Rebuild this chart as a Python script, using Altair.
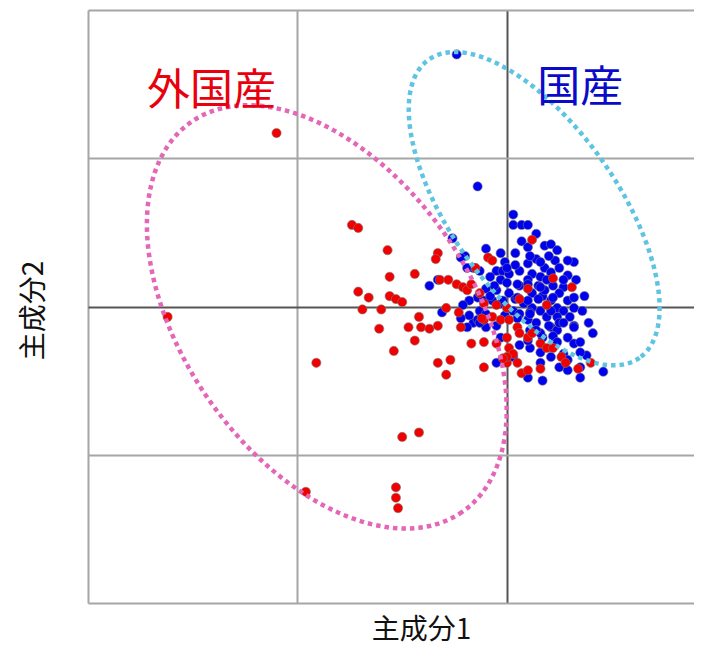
import altair as alt
import numpy as np
import pandas as pd

FONT = "Noto Sans CJK JP"

# 外国産 (red) – principal component scores
pc1_foreign = [-1.10, -1.62, -0.96, -0.74, -0.71, -0.57, -0.44, -0.56, -0.71, -0.66,
               -0.56, -0.53, -0.50, -0.69, -0.60, -0.61, -0.91, -0.50, -0.42, -0.53,
               -0.53, -0.52, -0.47, -0.41, -0.37, -0.33, -0.22, -0.44, -0.54, -0.33,
               -0.27, -0.29, -0.17, -0.11, -0.05, 0.07, 0.00, 0.05, 0.12, -0.33,
               -0.34, -0.32, -0.28, -0.24, -0.21, -0.19, -0.15, -0.09, -0.07, -0.29,
               -0.23, -0.13, -0.11, 0.22, 0.31, 0.10, 0.06, 0.19, -0.11, -0.05,
               0.00, -0.07, -0.03, 0.01, 0.05, -0.12, -0.42, 0.00, 0.01, 0.03,
               0.00, 0.06, 0.10, 0.12, 0.16, 0.19, 0.22, 0.10, 0.16, 0.26,
               0.28, 0.34, 0.40, -0.02, -0.11, -0.17]
pc2_foreign = [1.17, -0.07, -1.25, 0.55, 0.53, 0.38, 0.22, 0.20, 0.10, 0.06,
               0.07, 0.05, 0.03, -0.02, -0.02, -0.15, -0.38, -0.88, -0.85, -1.22,
               -1.29, -1.36, -0.14, -0.14, -0.15, -0.13, -0.14, -0.23, -0.30, -0.38,
               -0.36, -0.46, -0.25, -0.24, -0.25, -0.45, -0.38, -0.38, 0.45, 0.36,
               0.32, 0.18, 0.18, 0.15, 0.13, 0.11, 0.26, 0.33, 0.31, -0.01,
               -0.04, 0.09, -0.09, 0.19, 0.13, 0.12, 0.05, 0.01, 0.02, 0.01,
               -0.01, -0.07, -0.09, -0.09, -0.14, -0.08, -0.07, -0.21, -0.28, -0.32,
               -0.34, -0.18, -0.21, -0.18, -0.25, -0.28, -0.28, -0.43, -0.42, -0.34,
               -0.38, -0.42, -0.38, -0.35, -0.41, 0.15]

# 国産 (blue) – principal component scores
pc1_domestic = [-0.24, -0.14, 0.03, 0.03, 0.07, 0.10, 0.14, 0.07, 0.10, 0.18,
                0.21, 0.04, 0.14, 0.10, 0.23, 0.25, -0.10, -0.20, 0.18, 0.21,
                -0.05, -0.02, 0.01, 0.06, 0.12, 0.16, 0.33, -0.03, 0.00, 0.22,
                0.27, -0.08, -0.13, -0.16, -0.19, -0.10, -0.05, 0.01, 0.12, 0.17,
                0.25, 0.29, 0.32, -0.14, -0.11, -0.07, -0.03, 0.08, 0.12, 0.16,
                0.24, 0.27, 0.32, -0.13, -0.10, 0.03, 0.06, 0.19, 0.24, 0.30,
                0.10, 0.14, -0.16, -0.05, 0.39, 0.21, 0.24, 0.41, -0.14, 0.17,
                0.22, 0.29, 0.32, 0.03, 0.16, 0.27, 0.35, 0.25, 0.29, 0.35,
                0.35, 0.46, 0.17, 0.10, -0.05, -0.31, -0.33, -0.37, -0.22, -0.26,
                0.38, -0.01, 0.04, 0.11, 0.16, 0.20, 0.06, 0.10, 0.15, 0.18,
                0.04, 0.10, 0.15, 0.21, -0.01, 0.05, 0.11, 0.20, 0.25, 0.11,
                0.16, 0.06, 0.11, 0.32, 0.36, 0.37, 0.29, 0.32, -0.08, -0.06,
                -0.18, -0.21, -0.18, -0.22,
                0.24, 0.29, -0.03, 0.00, 0.19, 0.27, 0.10, 0.16, 0.05, 0.22,
                0.05, -0.02, 0.21, 0.11, 0.27, 0.14, 0.10, 0.24, 0.35, 0.32,
                -0.10, -0.13, -0.19, -0.03, 0.21, 0.29, 0.16]
pc2_domestic = [1.70, 0.81, 0.62, 0.55, 0.55, 0.55, 0.49, 0.44, 0.40, 0.41,
                0.42, 0.36, 0.32, 0.29, 0.31, 0.26, 0.39, 0.34, 0.26, 0.23,
                0.24, 0.24, 0.22, 0.24, 0.22, 0.20, 0.18, 0.18, 0.16, 0.14,
                0.13, 0.20, 0.24, 0.26, 0.26, 0.12, 0.11, 0.09, 0.09, 0.07,
                0.09, 0.04, 0.06, 0.06, 0.04, 0.04, 0.02, 0.02, -0.01, -0.03,
                -0.01, -0.03, -0.01, -0.03, -0.05, -0.03, -0.05, -0.07, -0.07, -0.07,
                -0.09, -0.11, -0.11, -0.13, -0.11, -0.14, -0.16, -0.18, -0.09, -0.21,
                -0.20, -0.21, -0.25, -0.34, -0.31, -0.32, -0.24, -0.41, -0.43, -0.41,
                -0.48, -0.44, -0.50, -0.48, -0.38, -0.04, 0.18, 0.14, 0.33, 0.46,
                -0.33, 0.30, 0.28, 0.34, 0.30, 0.34, 0.14, 0.18, 0.14, 0.11,
                0.05, 0.04, 0.05, 0.04, -0.06, -0.08, -0.04, -0.13, -0.11, -0.16,
                -0.18, -0.26, -0.28, -0.13, -0.03, 0.07, 0.21, 0.30, 0.07, 0.14,
                0.04, 0.01, -0.06, -0.08,
                0.38, 0.31, 0.36, 0.26, 0.18, 0.18, 0.15, 0.13, 0.15, 0.06,
                0.06, 0.04, -0.03, -0.05, -0.11, -0.16, -0.23, -0.24, -0.31, -0.14,
                -0.14, -0.11, -0.14, -0.21, -0.34, -0.36, -0.38]

# confidence ellipses: centre and the two semi-axis vectors (data units)
ell_foreign = {"cx": -0.86, "cy": -0.07, "ax": 0.646, "ay": -1.316, "bx": -0.566, "by": -0.553}
ell_domestic = {"cx": 0.13, "cy": 0.66, "ax": 0.503, "ay": -1.006, "bx": -0.325, "by": -0.324}

groups = ["外国産", "国産"]
point_colors = {"外国産": "#f20000", "国産": "#0000f0"}
ellipse_colors = {"外国産": "#e466b8", "国産": "#5ec4e2"}
label_colors = {"外国産": "#e8000e", "国産": "#0a0ac8"}

df_f = pd.DataFrame({"pc1": pc1_foreign, "pc2": pc2_foreign})
df_d = pd.DataFrame({"pc1": pc1_domestic, "pc2": pc2_domestic})


def ellipse(p):
    t = np.linspace(0, 2 * np.pi, 241)
    return pd.DataFrame({
        "pc1": p["cx"] + p["ax"] * np.cos(t) + p["bx"] * np.sin(t),
        "pc2": p["cy"] + p["ay"] * np.cos(t) + p["by"] * np.sin(t),
        "i": np.arange(len(t)),
    })


xs = alt.Scale(domain=[-2, 0.893], nice=False, zero=False)
ys = alt.Scale(domain=[-2, 2], nice=False, zero=False)

grid_color = alt.condition("datum.value == 0", alt.value("#555555"), alt.value("#a6a6a6"))

x_axis = alt.Axis(values=[-2, -1, 0], grid=True, labels=False, ticks=False, domain=False,
                  gridColor=grid_color, gridWidth=2,
                  title="主成分1", titleFont=FONT, titleFontSize=28, titleFontWeight="normal",
                  titleColor="#111111", titleX=333, titleY=27, titleBaseline="middle")
y_axis = alt.Axis(values=[-2, -1, 0, 1, 2], grid=True, labels=False, ticks=False, domain=False,
                  gridColor=grid_color, gridWidth=2,
                  title="主成分2", titleFont=FONT, titleFontSize=28, titleFontWeight="normal",
                  titleColor="#111111", titleX=-54, titleY=300, titleBaseline="middle")

X = alt.X("pc1:Q", scale=xs, axis=x_axis)
Y = alt.Y("pc2:Q", scale=ys, axis=y_axis)


def points(df, name):
    return alt.Chart(df).mark_circle(
        size=85, opacity=1, color=point_colors[name], stroke="#7a7a7a", strokeWidth=0.6
    ).encode(x=X, y=Y)


def ell(p, name):
    return alt.Chart(ellipse(p)).mark_line(
        strokeWidth=4.5, strokeDash=[4.5, 4], strokeCap="butt", color=ellipse_colors[name]
    ).encode(x=X, y=Y, order="i:Q")


def label(name, x, y):
    return alt.Chart(pd.DataFrame({"pc1": [x], "pc2": [y], "t": [name]})).mark_text(
        font=FONT, fontSize=43, baseline="middle", align="center", color=label_colors[name]
    ).encode(x=X, y=Y, text="t:N")


chart = alt.layer(
    points(df_d, "国産"),
    points(df_f, "外国産"),
    ell(ell_foreign, "外国産"),
    ell(ell_domestic, "国産"),
    label("外国産", -1.41, 1.45),
    label("国産", 0.35, 1.47),
).properties(
    width=606, height=593,
    padding={"left": 80, "top": 2, "right": 0, "bottom": 48},
    autosize="none",
).configure_view(stroke=None)

chart.save("out.html", embed_options={"renderer": "svg", "actions": False})
